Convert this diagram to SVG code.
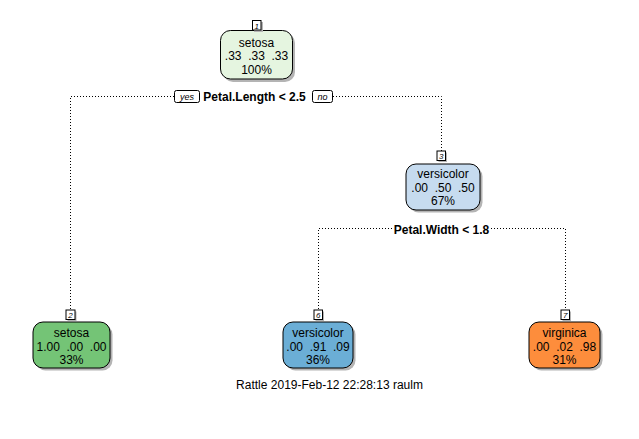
<svg xmlns="http://www.w3.org/2000/svg" width="639" height="439" viewBox="0 0 639 439">
<style>
text{font-family:"Liberation Sans",Arial,sans-serif;fill:#000}
.t{font-size:12px;text-anchor:middle}
.b{font-size:12px;font-weight:bold;text-anchor:middle}
.n{font-size:8px;font-style:italic;text-anchor:middle}
.yn{font-size:9px;font-style:italic;text-anchor:middle}
.box{stroke:#000;stroke-width:1}
.sh{fill:#b4b4b4}
.lab{fill:#fff;stroke:#000;stroke-width:1}
.dot{fill:none;stroke:#000;stroke-width:1;stroke-dasharray:1 2}
</style>
<rect width="639" height="439" fill="#fff"/>
<g id="connectors">
<polyline class="dot" points="174,96.5 70.5,96.5 70.5,310"/>
<polyline class="dot" points="333,96.5 441.5,96.5 441.5,151"/>
<polyline class="dot" points="392,228.5 318.5,228.5 318.5,310"/>
<polyline class="dot" points="491,228.5 565.5,228.5 565.5,310"/>
</g>
<g id="split1">
<rect x="174.5" y="90.5" width="25" height="12" rx="2" class="lab"/>
<text x="187" y="99.5" class="yn">yes</text>
<text x="254.5" y="101" class="b">Petal.Length &lt; 2.5</text>
<rect x="312.5" y="90.5" width="20" height="12" rx="2" class="lab"/>
<text x="322.5" y="99.5" class="yn">no</text>
</g>
<g id="split3">
<text x="441.5" y="234" class="b">Petal.Width &lt; 1.8</text>
</g>
<g id="node1">
<rect x="223" y="33" width="72" height="49" rx="10" class="sh"/>
<rect x="220.5" y="30.5" width="72" height="48.5" rx="10" fill="#e5f5e0" class="box"/>
<rect x="254" y="22" width="9" height="10" class="sh"/>
<rect x="252.5" y="20.5" width="8.5" height="9.5" class="lab"/>
<text x="256.7" y="28.5" class="n">1</text>
<text x="256.5" y="46.5" class="t">setosa</text>
<text x="256.5" y="60" class="t" xml:space="preserve">.33  .33  .33</text>
<text x="256.5" y="73.5" class="t">100%</text>
</g>
<g id="node3">
<rect x="408.5" y="166.5" width="74" height="46" rx="10" class="sh"/>
<rect x="406" y="164" width="74" height="46" rx="10" fill="#c6dbef" class="box"/>
<rect x="438.5" y="152.5" width="8.5" height="9.5" class="sh"/>
<rect x="437" y="151" width="8.5" height="9.5" class="lab"/>
<text x="441.2" y="159" class="n">3</text>
<text x="443" y="177.5" class="t">versicolor</text>
<text x="443" y="191.5" class="t" xml:space="preserve">.00  .50  .50</text>
<text x="443" y="205" class="t">67%</text>
</g>
<g id="node2">
<rect x="35.5" y="324.5" width="77" height="46" rx="10" class="sh"/>
<rect x="33" y="322" width="77" height="46" rx="10" fill="#74c476" class="box"/>
<rect x="67.5" y="311.5" width="9" height="9.5" class="sh"/>
<rect x="66" y="310" width="9" height="9.5" class="lab"/>
<text x="70.5" y="318" class="n">2</text>
<text x="71.5" y="336.5" class="t">setosa</text>
<text x="71.5" y="350.5" class="t" xml:space="preserve">1.00  .00  .00</text>
<text x="71.5" y="364" class="t">33%</text>
</g>
<g id="node6">
<rect x="285.5" y="324.5" width="70" height="46" rx="10" class="sh"/>
<rect x="283" y="322" width="70" height="46" rx="10" fill="#6baed6" class="box"/>
<rect x="315.5" y="311.5" width="8.5" height="9.5" class="sh"/>
<rect x="314" y="310" width="8.5" height="9.5" class="lab"/>
<text x="318.2" y="318" class="n">6</text>
<text x="318" y="336.5" class="t">versicolor</text>
<text x="318" y="350.5" class="t" xml:space="preserve">.00  .91  .09</text>
<text x="318" y="364" class="t">36%</text>
</g>
<g id="node7">
<rect x="531.5" y="324.5" width="71" height="46" rx="10" class="sh"/>
<rect x="529" y="322" width="71" height="46" rx="10" fill="#fd8d3c" class="box"/>
<rect x="562.5" y="311.5" width="8.5" height="9.5" class="sh"/>
<rect x="561" y="310" width="8.5" height="9.5" class="lab"/>
<text x="565.2" y="318" class="n">7</text>
<text x="564.5" y="336.5" class="t">virginica</text>
<text x="564.5" y="350.5" class="t" xml:space="preserve">.00  .02  .98</text>
<text x="564.5" y="364" class="t">31%</text>
</g>
<text x="329.5" y="388.5" class="t">Rattle 2019-Feb-12 22:28:13 raulm</text>
</svg>
